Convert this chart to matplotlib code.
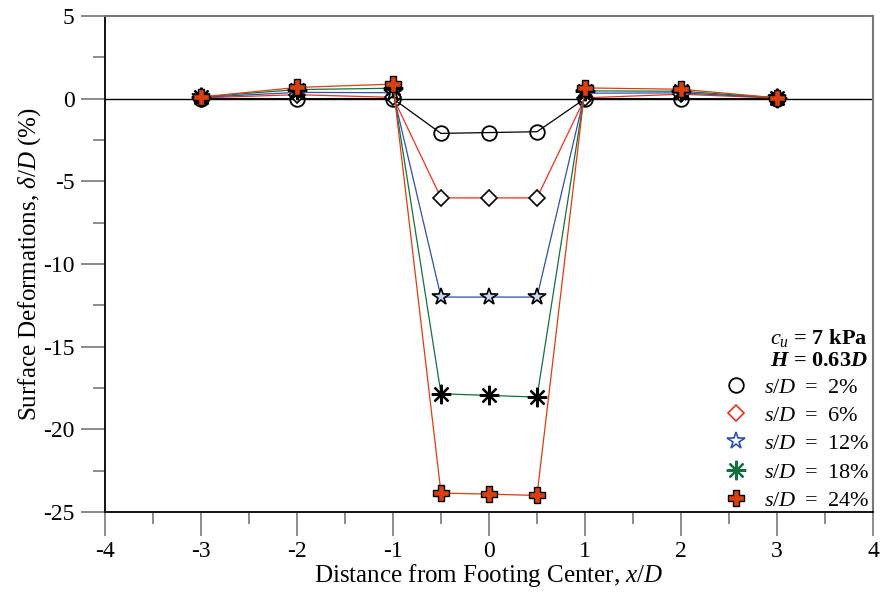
import matplotlib
matplotlib.use("Agg")
import matplotlib.pyplot as plt
from matplotlib.lines import Line2D

plt.rcParams['font.family'] = ['Liberation Serif', 'DejaVu Serif']
plt.rcParams['mathtext.fontset'] = 'custom'
plt.rcParams['mathtext.rm'] = 'Liberation Serif'
plt.rcParams['mathtext.it'] = 'Liberation Serif:italic'
plt.rcParams['mathtext.bf'] = 'Liberation Serif:bold'
plt.rcParams['mathtext.bfit'] = 'Liberation Serif:bold:italic'
plt.rcParams['axes.unicode_minus'] = False

x = [-3, -2, -1, -0.5, 0, 0.5, 1, 2, 3]
sd2 = [0.0, 0.0, 0.0, -2.1, -2.05, -2.0, 0.0, 0.0, 0.0]
sd6 = [0.05, 0.24, 0.08, -6.0, -6.0, -6.0, 0.05, 0.27, 0.03]
sd12 = [0.08, 0.38, 0.36, -12.0, -12.0, -12.0, 0.33, 0.35, 0.05]
sd18 = [0.1, 0.55, 0.63, -17.85, -17.95, -18.05, 0.47, 0.45, 0.05]
sd24 = [0.1, 0.68, 0.88, -23.85, -23.92, -24.0, 0.65, 0.57, 0.05]
labels = ['$s/D$ \u2009=\u2009 2%', '$s/D$ \u2009=\u2009 6%', '$s/D$ \u2009=\u2009 12%',
          '$s/D$ \u2009=\u2009 18%', '$s/D$ \u2009=\u2009 24%']

fig = plt.figure(figsize=(8.84, 6.02), dpi=100)
ax = fig.add_axes([105/884, 1-512/602, 768/884, 496/602])

ax.axhline(0, color='black', lw=1.0, zorder=1)

c_black, c_red, c_blue, c_green, c_orange = 'black', '#f0301e', '#2f4fb0', '#157040', '#d8400f'
ax.plot(x, sd2, color=c_black, lw=0.9, marker='o', ms=10.5, mfc='none', mec='black', mew=1.3, zorder=3)
ax.plot(x, sd6, color=c_red, lw=0.9, marker='D', ms=8.5, mfc='white', mec='black', mew=1.2, zorder=4)
ax.plot(x, sd12, color=c_blue, lw=0.9, marker='*', ms=13, mfc='#c8d8f0', mec='black', mew=1.2, zorder=5)
ax.plot(x, sd18, color=c_green, lw=0.9, marker=(8, 2, 0), ms=14, mec='black', mew=1.6, zorder=6)
ax.plot(x, sd24, color=c_orange, lw=0.9, marker='P', ms=12, mfc=c_orange, mec='black', mew=1.0, zorder=7)

ax.set_xlim(-4, 4)
ax.set_ylim(-25, 5)
ax.set_xticks(range(-4, 5))
ax.set_xticks([v + 0.5 for v in range(-4, 4)], minor=True)
ax.set_yticks(range(-25, 6, 5))
ax.set_yticks([v + 2.5 for v in range(-25, 5, 5)], minor=True)

ax.tick_params(which='major', direction='out', length=17, width=1.2, color='#777777', labelsize=17, pad=4)
ax.tick_params(which='minor', direction='out', length=8.5, width=1.2, color='#777777')
ax.tick_params(axis='y', which='major', pad=5)

for s in ['left', 'bottom']:
    ax.spines[s].set_color('black')
    ax.spines[s].set_linewidth(1.3)
for s in ['top', 'right']:
    ax.spines[s].set_color('#777777')
    ax.spines[s].set_linewidth(1.5)

ax.set_xlabel('Distance from Footing Center, $x/D$', fontsize=18, labelpad=0)
ax.set_ylabel('Surface Deformations, $\\delta/D$ (%)', fontsize=18, labelpad=0)

ax.text(0.929, 0.350, '$\\mathbf{\\mathit{c}_{\\mathit{u}}}$ = 7 kPa', transform=ax.transAxes,
        ha='center', va='center', fontsize=16, fontweight='bold')
ax.text(0.929, 0.304, '$\\mathbfit{H}$ = 0.63$\\mathbfit{D}$', transform=ax.transAxes,
        ha='center', va='center', fontsize=16, fontweight='bold')

handles = [
    Line2D([], [], ls='none', marker='o', ms=10.5, mfc='none', mec='black', mew=1.3),
    Line2D([], [], ls='none', marker='D', ms=8.5, mfc='none', mec=c_red, mew=1.2),
    Line2D([], [], ls='none', marker='*', ms=13, mfc='none', mec=c_blue, mew=1.2),
    Line2D([], [], ls='none', marker=(8, 2, 0), ms=14, mec=c_green, mew=1.6),
    Line2D([], [], ls='none', marker='P', ms=12, mfc=c_orange, mec='black', mew=1.0),
]
ax.legend(handles, labels, loc='upper left', bbox_to_anchor=(0.793, 0.29), frameon=False,
          fontsize=16, handlelength=1.2, handletextpad=0.65, labelspacing=0.35, borderaxespad=0)

fig.savefig('out.png', dpi=100)
